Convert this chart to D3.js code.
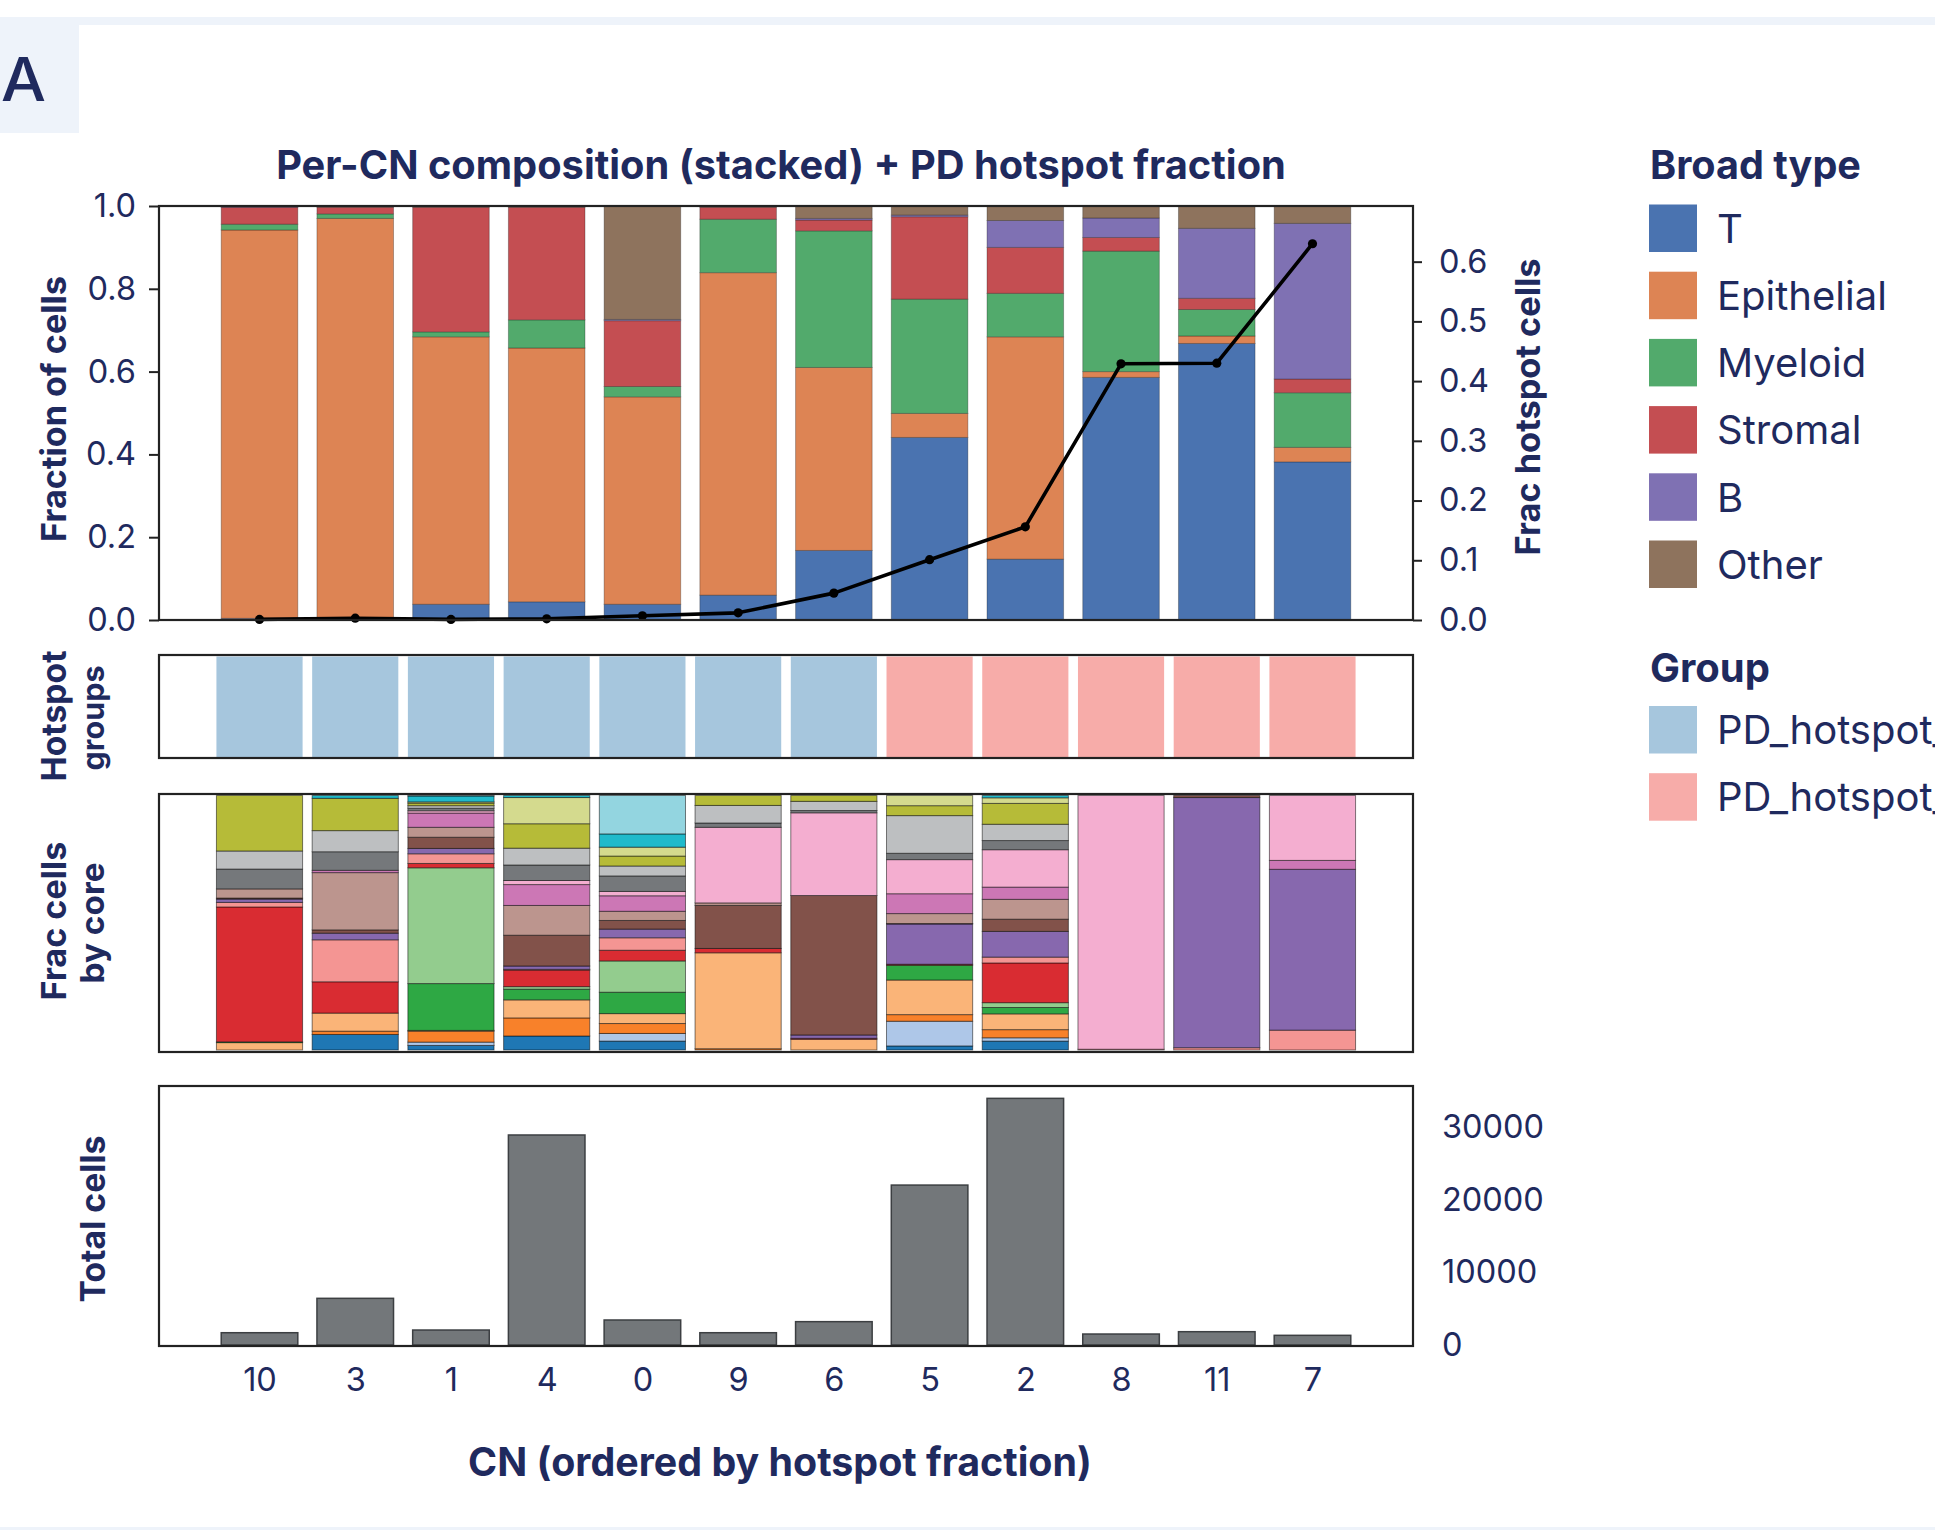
<!DOCTYPE html>
<html><head><meta charset="utf-8">
<script src="https://cdn.jsdelivr.net/npm/d3@7"></script>
<style>
html,body{margin:0;padding:0;background:#fff;overflow:hidden}
svg{display:block}
text{font-family:Inter,"Open Sans",sans-serif}
</style></head><body>
<svg id="c" width="1935" height="1530"></svg>
<script>
// ---------------- DATA ----------------
const cnLabels = ["10","3","1","4","0","9","6","5","2","8","11","7"];
const broadTypes = ["T","Epithelial","Myeloid","Stromal","B","Other"];
const broadColors = ["#4a73b0","#dd8454","#52aa6c","#c44e52","#7f71b3","#8e735d"];
const fracT          = [0.004,0.002,0.038,0.044,0.038,0.060,0.168,0.441,0.147,0.586,0.668,0.382];
const fracEpithelial = [0.938,0.968,0.646,0.613,0.501,0.779,0.442,0.058,0.537,0.014,0.018,0.035];
const fracMyeloid    = [0.014,0.011,0.012,0.068,0.025,0.129,0.330,0.276,0.105,0.291,0.064,0.132];
const fracStromal    = [0.041,0.016,0.301,0.272,0.159,0.029,0.026,0.199,0.111,0.033,0.027,0.033];
const fracB          = [0.001,0.000,0.000,0.000,0.003,0.000,0.004,0.004,0.065,0.047,0.169,0.376];
const fracOther      = [0.002,0.003,0.003,0.003,0.274,0.003,0.030,0.022,0.035,0.029,0.054,0.042];
const hotspotFrac    = [0.001,0.003,0.001,0.002,0.007,0.012,0.045,0.101,0.156,0.429,0.430,0.630];
const groupNames  = ["PD_hotspot_low","PD_hotspot_high"];
const groupColors = ["#a6c6dd","#f7aca9"];
const cnGroup = ["PD_hotspot_low","PD_hotspot_low","PD_hotspot_low","PD_hotspot_low","PD_hotspot_low","PD_hotspot_low","PD_hotspot_low",
                 "PD_hotspot_high","PD_hotspot_high","PD_hotspot_high","PD_hotspot_high","PD_hotspot_high"];
const totalCells = [1690,6420,2060,28890,3440,1690,3210,22000,33930,1510,1830,1330];
const coreColors = ["#1f77b4","#aec7e8","#f8812a","#fab478","#2ea844","#93cc8e","#d92c32","#f49593","#8768ae","#c5b0d5",
                    "#82524a","#bc958e","#cc77b5","#f4aed0","#75787b","#bdbfc1","#b6bb38","#d4da8e","#1fbacb","#93d5e0"];
const coreKeys = coreColors.map((c,i)=>"core"+i);
// fraction of cells by core (20 cores, tab20 order) for each CN
const coresCN10 = [0,0,0,0.029,0.003,0,0.530,0.018,0.013,0,0.004,0.036,0,0,0.078,0.071,0.218,0,0,0];
const coresCN3  = [0.061,0,0.013,0.071,0,0,0.123,0.165,0.026,0,0.013,0.225,0.009,0,0.073,0.083,0.127,0,0.011,0];
const coresCN1  = [0.018,0.013,0.043,0.003,0.184,0.455,0.017,0.038,0.021,0,0.044,0.039,0.056,0.009,0.010,0.010,0.010,0.005,0.023,0.002];
const coresCN4  = [0.055,0,0.071,0.071,0.042,0.010,0.065,0.003,0.013,0,0.121,0.117,0.082,0.016,0.061,0.066,0.096,0.103,0.008,0];
const coresCN0  = [0.035,0.030,0.039,0.039,0.084,0.123,0.042,0.049,0.034,0,0.034,0.036,0.061,0.017,0.061,0.039,0.039,0.035,0.052,0.151];
const coresCN9  = [0,0,0.005,0.377,0,0,0.017,0,0,0,0.169,0.010,0,0.297,0.017,0.069,0.039,0,0,0];
const coresCN6  = [0,0,0,0.042,0,0,0.004,0,0.013,0,0.548,0,0,0.325,0.009,0.036,0.023,0,0,0];
const coresCN5  = [0.016,0.097,0.026,0.136,0.058,0,0.004,0,0.158,0,0.002,0.039,0.078,0.134,0.025,0.148,0.039,0.040,0,0];
const coresCN2  = [0.035,0.013,0.032,0.062,0.025,0.019,0.156,0.023,0.101,0,0.048,0.078,0.048,0.147,0.036,0.064,0.082,0.022,0.009,0];
const coresCN8  = [0,0,0,0,0,0,0,0.003,0,0,0,0,0,0.997,0,0,0,0,0,0];
const coresCN11 = [0,0,0,0,0,0,0,0.009,0.983,0,0.008,0,0,0,0,0,0,0,0,0];
const coresCN7  = [0,0,0,0,0,0,0,0.078,0.632,0,0,0,0.035,0.255,0,0,0,0,0,0];
const coresByCN = [coresCN10,coresCN3,coresCN1,coresCN4,coresCN0,coresCN9,coresCN6,coresCN5,coresCN2,coresCN8,coresCN11,coresCN7];
const fracTicks = [0,0.2,0.4,0.6,0.8,1.0];
const hotTicks  = [0,0.1,0.2,0.3,0.4,0.5,0.6];
const totalTicks = [0,10000,20000,30000];

// ---------------- LAYOUT ----------------
const navy = "#1f2a5e";
const svg = d3.select("#c");
const W = 1935, H = 1530;
const L = 159, R = 1413;
const P1 = {top:206, bottom:620}, P2 = {top:655, bottom:758}, P3 = {top:794, bottom:1052}, P4 = {top:1086, bottom:1346};
const tickFs = 32.5;

function fit(sel, target){
  const w = sel.node().getComputedTextLength();
  const fs = parseFloat(sel.style("font-size"));
  sel.style("font-size", (fs*target/w).toFixed(2)+"px");
  return fs*target/w;
}
function txt(s, x, y, size, weight){
  return svg.append("text").text(s).attr("x",x).attr("y",y)
    .style("font-size",size+"px").style("font-weight",weight||400).attr("fill",navy);
}
function vlabel(s, cx, cy, target){
  const t = txt(s,0,0,31,700).attr("text-anchor","middle").attr("dominant-baseline","central")
    .attr("transform",`translate(${cx},${cy}) rotate(-90)`);
  fit(t, target);
  return t;
}
function styleAxis(g, fs){
  g.select(".domain").remove();
  g.selectAll(".tick line").attr("stroke","#222").attr("stroke-width",2);
  g.selectAll(".tick text").attr("fill",navy).style("font-size",fs+"px").style("font-family","Inter, sans-serif");
}
function frame(p){
  svg.append("rect").attr("x",L).attr("y",p.top).attr("width",R-L).attr("height",p.bottom-p.top)
    .attr("fill","none").attr("stroke","#222").attr("stroke-width",2.2);
}

// decorations
svg.append("rect").attr("x",0).attr("y",17).attr("width",W).attr("height",8).attr("fill","#eef3fa");
svg.append("rect").attr("x",0).attr("y",25).attr("width",79).attr("height",108).attr("fill","#eef3fa");
svg.append("rect").attr("x",0).attr("y",1527).attr("width",W).attr("height",3).attr("fill","#eef3fa");
txt("A",1,101,60,500).attr("textLength",45).attr("lengthAdjust","spacingAndGlyphs");

const x = d3.scaleLinear().domain([-1.05, 12.05]).range([L, R]);
const unit = x(1) - x(0);
const idx = d3.range(cnLabels.length);

// ---------------- PANEL 1 ----------------
const y1 = d3.scaleLinear().domain([0,1]).range([P1.bottom, P1.top]);
const yHot = d3.scaleLinear().domain([0,0.6932]).range([P1.bottom, P1.top]);
const broadArrays = [fracT,fracEpithelial,fracMyeloid,fracStromal,fracB,fracOther];
const rows1 = idx.map(i => { const o = {i}; broadTypes.forEach((k,j)=>o[k]=broadArrays[j][i]); return o; });
const stack1 = d3.stack().keys(broadTypes)(rows1);
const g1 = svg.append("g");
stack1.forEach((layer,j)=>{
  g1.selectAll(null).data(layer).join("rect")
    .attr("x", d => x(d.data.i) - 0.4*unit).attr("width", 0.8*unit)
    .attr("y", d => y1(d[1])).attr("height", d => Math.max(0, y1(d[0]) - y1(d[1])))
    .attr("fill", broadColors[j]).attr("stroke","rgba(0,0,0,0.28)").attr("stroke-width",1);
});
const line = d3.line().x((d,i)=>x(i)).y(d=>yHot(d));
svg.append("path").datum(hotspotFrac).attr("d",line).attr("fill","none").attr("stroke","#000").attr("stroke-width",3.6).attr("stroke-linejoin","round");
svg.selectAll(null).data(hotspotFrac).join("circle").attr("cx",(d,i)=>x(i)).attr("cy",d=>yHot(d)).attr("r",4.6).attr("fill","#000");
frame(P1);
const ax1 = svg.append("g").attr("transform",`translate(${L},0)`)
  .call(d3.axisLeft(y1).tickValues(fracTicks).tickFormat(d3.format(".1f")).tickSize(10).tickPadding(13));
styleAxis(ax1, tickFs);
const ax1r = svg.append("g").attr("transform",`translate(${R},0)`)
  .call(d3.axisRight(yHot).tickValues(hotTicks).tickFormat(d3.format(".1f")).tickSize(9).tickPadding(17));
styleAxis(ax1r, tickFs);

const title = txt("Per-CN composition (stacked) + PD hotspot fraction", 781, 179, 34, 700).attr("text-anchor","middle");
fit(title, 1010);
vlabel("Fraction of cells", 53, 409, 266);
vlabel("Frac hotspot cells", 1527, 407, 297);

// ---------------- PANEL 2 ----------------
const yG = d3.scaleLinear().domain([0,1]).range([P2.bottom-1, P2.top+1.5]);
svg.selectAll(null).data(idx).join("rect")
  .attr("x", i => x(i) - 0.45*unit).attr("width", 0.9*unit)
  .attr("y", yG(1)).attr("height", yG(0)-yG(1))
  .attr("fill", i => groupColors[groupNames.indexOf(cnGroup[i])]);
frame(P2);
vlabel("Hotspot", 53, 716, 131);
vlabel("groups", 92, 718, 105);

// ---------------- PANEL 3 ----------------
const yC = d3.scaleLinear().domain([0,1]).range([P3.bottom-2, P3.top+1.5]);
const rows3 = idx.map(i => { const o = {i}; coreKeys.forEach((k,j)=>o[k]=coresByCN[i][j]); return o; });
const stack3 = d3.stack().keys(coreKeys)(rows3);
const g3 = svg.append("g");
stack3.forEach((layer,j)=>{
  g3.selectAll(null).data(layer.filter(d=>d[1]-d[0]>0)).join("rect")
    .attr("x", d => x(d.data.i) - 0.45*unit).attr("width", 0.9*unit)
    .attr("y", d => yC(d[1])).attr("height", d => Math.max(0, yC(d[0]) - yC(d[1])))
    .attr("fill", coreColors[j])
    .attr("stroke","rgba(0,0,0,0.5)").attr("stroke-width",1);
});
frame(P3);
vlabel("Frac cells", 53, 921, 159);
vlabel("by core", 92, 923, 121);

// ---------------- PANEL 4 ----------------
const yT = d3.scaleLinear().domain([0, 35630]).range([P4.bottom-1, P4.top]);
svg.selectAll(null).data(totalCells).join("rect")
  .attr("x",(d,i)=>x(i)-0.4*unit).attr("width",0.8*unit)
  .attr("y",d=>yT(d)).attr("height",d=>yT(0)-yT(d))
  .attr("fill","#73777a").attr("stroke","#3c3f42").attr("stroke-width",1.5);
frame(P4);
const ax4r = svg.append("g").attr("transform",`translate(${R},0)`)
  .call(d3.axisRight(yT).tickValues(totalTicks).tickFormat(d3.format("d")).tickSize(0).tickPadding(29));
styleAxis(ax4r, tickFs);
const ax4b = svg.append("g").attr("transform",`translate(0,${P4.bottom})`)
  .call(d3.axisBottom(x).tickValues(idx).tickFormat(i=>cnLabels[i]).tickSize(0).tickPadding(22));
styleAxis(ax4b, tickFs);
vlabel("Total cells", 92, 1219, 167);
const xl = txt("CN (ordered by hotspot fraction)", 780, 1462, 33, 700).attr("text-anchor","middle").attr("dominant-baseline","central");
fit(xl, 624);

// ---------------- LEGENDS ----------------
const lt = txt("Broad type",1650,179,38,700); fit(lt,211);
const lgx = 1649, patchW = 48, patchH = 47.5, step = 67.2;
const leg = d3.scaleLinear().domain([0,1]).range([204.5, 204.5+step]);
broadTypes.forEach((k,j)=>{
  svg.append("rect").attr("x",lgx).attr("y",leg(j)).attr("width",patchW).attr("height",patchH).attr("fill",broadColors[j]);
});
const probe = txt("Epithelial",1717,0,38,400); const legFs = fit(probe,170); probe.remove();
broadTypes.forEach((k,j)=>{
  txt(k,1717,leg(j)+patchH/2,legFs,400).attr("dominant-baseline","central");
});
const gt = txt("Group",1650,682,38,700); fit(gt,120);
const legG = d3.scaleLinear().domain([0,1]).range([706, 706+step]);
groupNames.forEach((k,j)=>{
  svg.append("rect").attr("x",lgx).attr("y",legG(j)).attr("width",patchW).attr("height",patchH).attr("fill",groupColors[j]);
  txt(k,1717,legG(j)+patchH/2,legFs,400).attr("dominant-baseline","central");
});
</script>
</body></html>
